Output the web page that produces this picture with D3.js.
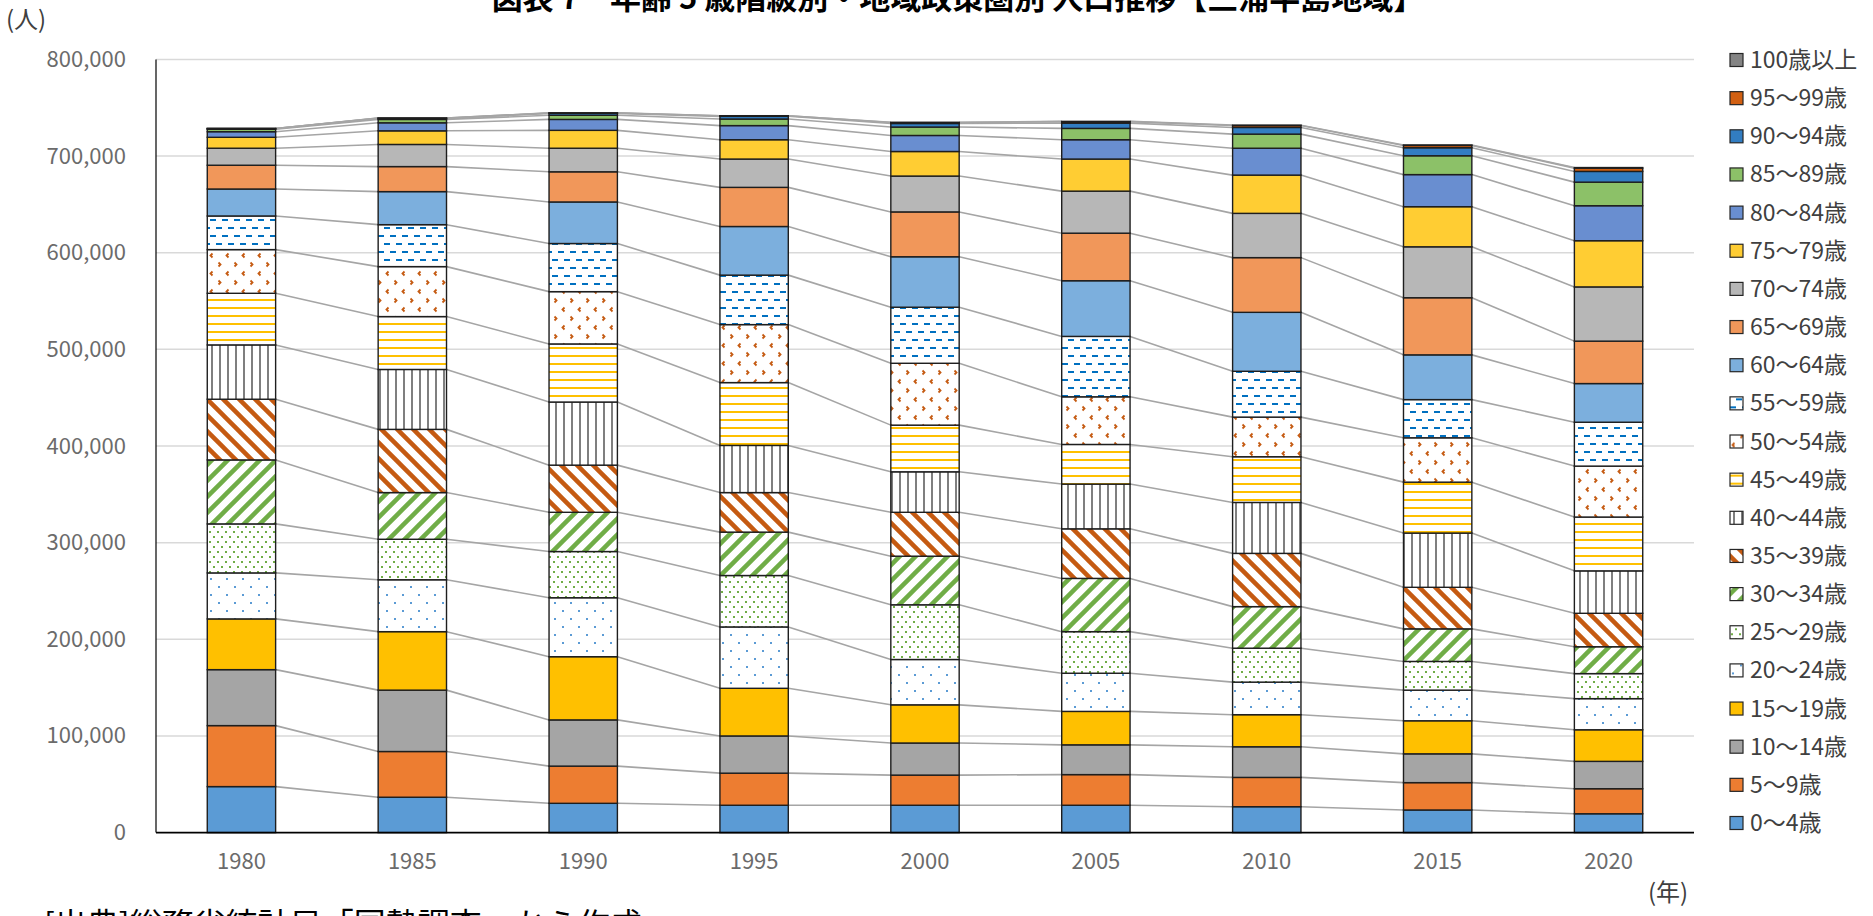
<!DOCTYPE html>
<html>
<head>
<meta charset="utf-8">
<script src="https://cdn.jsdelivr.net/npm/d3@7"></script>
<style>
  body { margin: 0; background: #fff; overflow: hidden; }
  text { font-family: "Noto Sans CJK JP", "Noto Sans", sans-serif; }
</style>
</head>
<body>
<svg id="chart" width="1873" height="916"></svg>
<script>

// census years
var years = ["1980", "1985", "1990", "1995", "2000", "2005", "2010", "2015", "2020"];

// age groups, youngest first (stack order)
var ageGroups = ["0～4歳", "5～9歳", "10～14歳", "15～19歳", "20～24歳", "25～29歳", "30～34歳",
                 "35～39歳", "40～44歳", "45～49歳", "50～54歳", "55～59歳", "60～64歳", "65～69歳",
                 "70～74歳", "75～79歳", "80～84歳", "85～89歳", "90～94歳", "95～99歳", "100歳以上"];

// population per age group, same order as ageGroups
var pop1980 = [47600, 63100, 57900, 52500, 47600, 50700, 66200, 62800, 56200, 53400, 45200, 34800, 27900, 24600, 17600, 11300, 5800, 2500, 700, 150, 10];
var pop1985 = [36600, 47300, 63500, 60500, 53700, 41900, 48300, 65400, 62000, 54700, 51700, 43400, 34200, 25900, 22900, 14100, 8300, 3500, 1100, 250, 20];
var pop1990 = [30300, 38500, 47800, 65400, 61000, 47800, 40600, 48800, 65300, 60100, 54100, 49800, 43000, 31200, 24400, 18500, 11300, 4300, 2000, 400, 40];
var pop1995 = [28300, 33200, 38500, 49300, 63500, 53200, 44900, 40900, 48800, 65000, 60000, 51200, 50300, 40500, 29300, 20000, 14600, 6800, 2800, 600, 60];
var pop2000 = [28300, 31200, 33200, 39500, 46900, 56600, 50300, 45400, 41900, 48300, 64000, 58000, 52200, 46400, 37100, 25400, 16600, 8700, 3700, 1000, 120];
var pop2005 = [28300, 31700, 30800, 34600, 39500, 43000, 55100, 51300, 46300, 41000, 49300, 62500, 57600, 49200, 43500, 33200, 20000, 11700, 5500, 1500, 250];
var pop2010 = [26800, 30300, 31700, 33200, 33700, 35100, 43000, 55100, 52700, 47300, 41000, 47400, 61000, 56600, 45800, 39600, 27800, 14600, 6900, 2000, 350];
var pop2015 = [23400, 28300, 29800, 34200, 31700, 29700, 33700, 43000, 56100, 52700, 45900, 39500, 46300, 59100, 52700, 41500, 33200, 19500, 8300, 2400, 450];
var pop2020 = [19500, 25900, 28300, 32700, 32200, 25900, 27800, 34600, 43900, 55700, 52700, 45400, 40000, 43900, 56100, 47800, 36200, 24400, 11100, 3400, 600];

var popByYear = [pop1980, pop1985, pop1990, pop1995, pop2000, pop2005, pop2010, pop2015, pop2020];

var yTicks = [0, 100000, 200000, 300000, 400000, 500000, 600000, 700000, 800000];

// fills per age group (solid colour or pattern id)
var fills = ["#5b9bd5", "#ed7d31", "#a5a5a5", "#ffc000", "url(#p20)", "url(#p25)", "url(#p30)",
             "url(#p35)", "url(#p40)", "url(#p45)", "url(#p50)", "url(#p55)", "#7cafdd", "#f1975a",
             "#b7b7b7", "#ffcd33", "#698ed0", "#8cc168", "#327dc2", "#d26012", "#848484"];

var svg = d3.select("#chart");

//Plot area
var plotLeft = 156, plotRight = 1694, plotTop = 59.4, plotBottom = 832.6;

var x = d3.scaleBand()
          .domain(years)
          .range([plotLeft, plotRight])
          .paddingInner(0.6)
          .paddingOuter(0.3);

var y = d3.scaleLinear()
          .domain([0, 800000])
          .range([plotBottom, plotTop]);

var bw = x.bandwidth();

//Patterns
var defs = svg.append("defs");

function addPattern(id, pw, ph, draw) {
  var p = defs.append("pattern")
      .attr("id", id)
      .attr("patternUnits", "userSpaceOnUse")
      .attr("width", pw)
      .attr("height", ph);
  p.append("rect").attr("width", pw).attr("height", ph).attr("fill", "#fff");
  draw(p);
}

addPattern("p20", 16, 16, function(p) {
  p.append("rect").attr("x", 2).attr("y", 2).attr("width", 2).attr("height", 2).attr("fill", "#5b9bd5");
  p.append("rect").attr("x", 10).attr("y", 10).attr("width", 2).attr("height", 2).attr("fill", "#5b9bd5");
});
addPattern("p25", 8, 10, function(p) {
  p.append("rect").attr("x", 1).attr("y", 1).attr("width", 2).attr("height", 2).attr("fill", "#70ad47");
  p.append("rect").attr("x", 5).attr("y", 6).attr("width", 2).attr("height", 2).attr("fill", "#70ad47");
});
addPattern("p30", 16, 16, function(p) {
  p.append("path").attr("d", "M-4,4L4,-4M0,16L16,0M12,20L20,12")
   .attr("stroke", "#70ad47").attr("stroke-width", 4.5);
});
addPattern("p35", 16, 16, function(p) {
  p.append("path").attr("d", "M-4,12L4,20M0,0L16,16M12,-4L20,4")
   .attr("stroke", "#c55a11").attr("stroke-width", 4.5);
});
addPattern("p40", 8, 8, function(p) {
  p.append("rect").attr("x", 3).attr("y", 0).attr("width", 2).attr("height", 8).attr("fill", "#7f7f7f");
});
addPattern("p45", 8, 8, function(p) {
  p.append("rect").attr("x", 0).attr("y", 3).attr("width", 8).attr("height", 2).attr("fill", "#ffc000");
});
addPattern("p50", 16, 18, function(p) {
  p.append("path").attr("d", "M4.5,1.5L2.5,3.5L4.5,5.5").attr("fill", "none")
   .attr("stroke", "#c55a11").attr("stroke-width", 1.8);
  p.append("path").attr("d", "M10.5,10.5L12.5,12.5L10.5,14.5").attr("fill", "none")
   .attr("stroke", "#c55a11").attr("stroke-width", 1.8);
});
addPattern("p55", 12, 16, function(p) {
  p.append("rect").attr("x", 0).attr("y", 3).attr("width", 6).attr("height", 2).attr("fill", "#0070c0");
  p.append("rect").attr("x", 6).attr("y", 11).attr("width", 6).attr("height", 2).attr("fill", "#0070c0");
});

//Gridlines
svg.append("g")
   .selectAll("line")
   .data(yTicks.slice(1))
   .enter()
   .append("line")
   .attr("x1", plotLeft).attr("x2", plotRight)
   .attr("y1", function(d) { return y(d); })
   .attr("y2", function(d) { return y(d); })
   .attr("stroke", "#d9d9d9")
   .attr("stroke-width", 1.5);

//Cumulative stacks
var stacks = popByYear.map(function(vals, i) {
  var cum = 0;
  return vals.map(function(v, k) {
    var seg = { year: years[i], k: k, y0: cum, y1: cum + v };
    cum += v;
    return seg;
  });
});

//Series lines between bars
var links = [];
for (var i = 0; i < stacks.length - 1; i++) {
  for (var k = 0; k < ageGroups.length; k++) {
    links.push({ a: stacks[i][k], b: stacks[i + 1][k] });
  }
}
svg.append("g")
   .selectAll("line")
   .data(links)
   .enter()
   .append("line")
   .attr("x1", function(d) { return x(d.a.year) + bw; })
   .attr("y1", function(d) { return y(d.a.y1); })
   .attr("x2", function(d) { return x(d.b.year); })
   .attr("y2", function(d) { return y(d.b.y1); })
   .attr("stroke", "#a5a5a5")
   .attr("stroke-width", 1.6);

//Bars
svg.append("g")
   .selectAll("g")
   .data(stacks)
   .enter()
   .append("g")
   .selectAll("rect")
   .data(function(d) { return d; })
   .enter()
   .append("rect")
   .attr("x", function(d) { return x(d.year); })
   .attr("y", function(d) { return y(d.y1); })
   .attr("width", bw)
   .attr("height", function(d) { return y(d.y0) - y(d.y1); })
   .attr("fill", function(d) { return fills[d.k]; })
   .attr("stroke", "#1e1e1e")
   .attr("stroke-width", 1.4);

//Axes lines
svg.append("line")
   .attr("x1", plotLeft).attr("x2", plotLeft).attr("y1", plotTop).attr("y2", plotBottom)
   .attr("stroke", "#000").attr("stroke-width", 1.2);
svg.append("line")
   .attr("x1", plotLeft).attr("x2", plotRight).attr("y1", plotBottom).attr("y2", plotBottom)
   .attr("stroke", "#000").attr("stroke-width", 1.8);

//Y labels
var yAxis = svg.append("g")
   .attr("transform", "translate(" + plotLeft + ",0)")
   .call(d3.axisLeft(y).tickValues(yTicks).tickSize(0).tickPadding(30).tickFormat(d3.format(",")));
yAxis.select(".domain").remove();
yAxis.selectAll("text")
   .attr("font-size", 22)
   .attr("fill", "#6b6b6b")
   .style("font-family", "'Noto Sans CJK JP', sans-serif");

//X labels
var xAxis = svg.append("g")
   .attr("transform", "translate(0," + plotBottom + ")")
   .call(d3.axisBottom(x).tickSize(0).tickPadding(21));
xAxis.select(".domain").remove();
xAxis.selectAll("text")
   .attr("font-size", 22)
   .attr("fill", "#6b6b6b")
   .style("font-family", "'Noto Sans CJK JP', sans-serif");

//Legend (oldest on top)
var legendOrder = ageGroups.slice().reverse();
var legend = svg.append("g")
   .selectAll("g")
   .data(legendOrder)
   .enter()
   .append("g")
   .attr("transform", function(d, i) { return "translate(1730," + (60 + i * 38.15) + ")"; });

legend.append("rect")
   .attr("x", 0).attr("y", -6.5)
   .attr("width", 13).attr("height", 13)
   .attr("fill", function(d) { return fills[ageGroups.indexOf(d)]; })
   .attr("stroke", "#262626")
   .attr("stroke-width", 1.2);

legend.append("text")
   .attr("x", 20)
   .attr("y", 8)
   .attr("font-size", 23)
   .attr("fill", "#404040")
   .text(function(d) { return d; });

//Title and notes
svg.append("text")
   .attr("x", 958).attr("y", 9)
   .attr("text-anchor", "middle")
   .attr("font-size", 31)
   .attr("font-weight", "bold")
   .attr("fill", "#000")
   .text("図表 7　年齢 5 歳階級別・地域政策圏別 人口推移【三浦半島地域】");

svg.append("text")
   .attr("x", 6).attr("y", 28)
   .attr("font-size", 24)
   .attr("fill", "#404040")
   .text("(人)");

svg.append("text")
   .attr("x", 1648).attr("y", 901)
   .attr("font-size", 24)
   .attr("fill", "#404040")
   .text("(年)");

svg.append("text")
   .attr("x", 44).attr("y", 936)
   .attr("font-size", 32)
   .attr("fill", "#000")
   .text("[出典]総務省統計局「国勢調査」から作成");

</script>
</body>
</html>
